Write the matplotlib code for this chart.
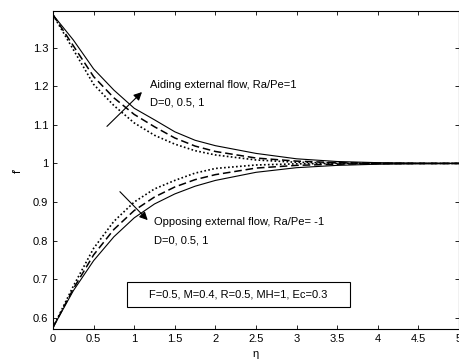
import matplotlib
matplotlib.use("Agg")
import matplotlib.pyplot as plt
from matplotlib.patches import Rectangle
from matplotlib.ticker import FormatStrFormatter, MultipleLocator

plt.rcParams['font.family'] = ['Liberation Sans', 'DejaVu Sans']
plt.rcParams['font.size'] = 8

# eta grid and f' values
eta = [0, 0.25, 0.5, 0.75, 1, 1.25, 1.5, 1.75, 2, 2.5, 3, 3.5, 4, 4.5, 5]

# aiding flow, Ra/Pe = 1
aid_D0 = [1.385, 1.320, 1.245, 1.190, 1.143, 1.113, 1.082, 1.060, 1.046, 1.026, 1.012, 1.005, 1.002, 1.0005, 1.0]
aid_D05 = [1.385, 1.305, 1.225, 1.170, 1.127, 1.095, 1.066, 1.045, 1.031, 1.014, 1.006, 1.002, 1.0005, 1.0, 1.0]
aid_D1 = [1.385, 1.295, 1.205, 1.150, 1.105, 1.073, 1.050, 1.033, 1.022, 1.009, 1.003, 1.001, 1.0, 1.0, 1.0]

# opposing flow, Ra/Pe = -1
opp_D0 = [0.575, 0.670, 0.748, 0.810, 0.859, 0.895, 0.921, 0.941, 0.956, 0.977, 0.989, 0.995, 0.998, 0.9995, 1.0]
opp_D05 = [0.575, 0.675, 0.763, 0.829, 0.878, 0.913, 0.939, 0.958, 0.971, 0.988, 0.995, 0.998, 0.9995, 1.0, 1.0]
opp_D1 = [0.575, 0.682, 0.780, 0.850, 0.900, 0.934, 0.956, 0.975, 0.987, 0.996, 0.999, 1.0, 1.0, 1.0, 1.0]

fig = plt.figure(figsize=(4.6, 3.62), dpi=100)
ax = fig.add_axes([53/460, 1 - 329/362, 406/460, 318/362])

ls_solid = dict(color='k', lw=0.8, ls='-')
ls_dash = dict(color='k', lw=1.1, ls=(0, (5, 2.5)))
ls_dot = dict(color='k', lw=1.2, ls=(0, (1, 1.4)))

ax.plot(eta, aid_D0, **ls_solid)
ax.plot(eta, aid_D05, **ls_dash)
ax.plot(eta, aid_D1, **ls_dot)
ax.plot(eta, opp_D0, **ls_solid)
ax.plot(eta, opp_D05, **ls_dash)
ax.plot(eta, opp_D1, **ls_dot)

ax.set_xlim(0, 5)
ax.set_ylim(0.571, 1.395)
ax.xaxis.set_major_locator(MultipleLocator(0.5))
ax.yaxis.set_major_locator(MultipleLocator(0.1))
ax.xaxis.set_major_formatter(FormatStrFormatter('%g'))
ax.yaxis.set_major_formatter(FormatStrFormatter('%g'))
ax.tick_params(direction='in', top=True, right=True, length=3, width=0.6, labelsize=8)
for sp in ax.spines.values():
    sp.set_linewidth(0.8)

ax.set_xlabel('η', fontsize=8, labelpad=4)
ax.set_ylabel("f'", fontsize=8, labelpad=7)

# annotations
ax.annotate('', xy=(1.12, 1.19), xytext=(0.64, 1.091),
            arrowprops=dict(arrowstyle='-|>', color='k', lw=0.8, mutation_scale=12))
ax.text(1.19, 1.203, 'Aiding external flow, Ra/Pe=1', va='center', ha='left', fontsize=8)
ax.text(1.19, 1.158, 'D=0, 0.5, 1', va='center', ha='left', fontsize=8)

ax.annotate('', xy=(1.19, 0.848), xytext=(0.80, 0.932),
            arrowprops=dict(arrowstyle='-|>', color='k', lw=0.8, mutation_scale=12))
ax.text(1.25, 0.848, 'Opposing external flow, Ra/Pe= -1', va='center', ha='left', fontsize=8)
ax.text(1.25, 0.800, 'D=0, 0.5, 1', va='center', ha='left', fontsize=8)

ax.add_patch(Rectangle((0.909, 0.6286), 2.748, 0.065, fill=False, ec='k', lw=0.8))
ax.text(0.909 + 2.748 / 2, 0.6286 + 0.0325, 'F=0.5, M=0.4, R=0.5, MH=1, Ec=0.3',
        ha='center', va='center', fontsize=8)

fig.savefig('out.png', dpi=100)
